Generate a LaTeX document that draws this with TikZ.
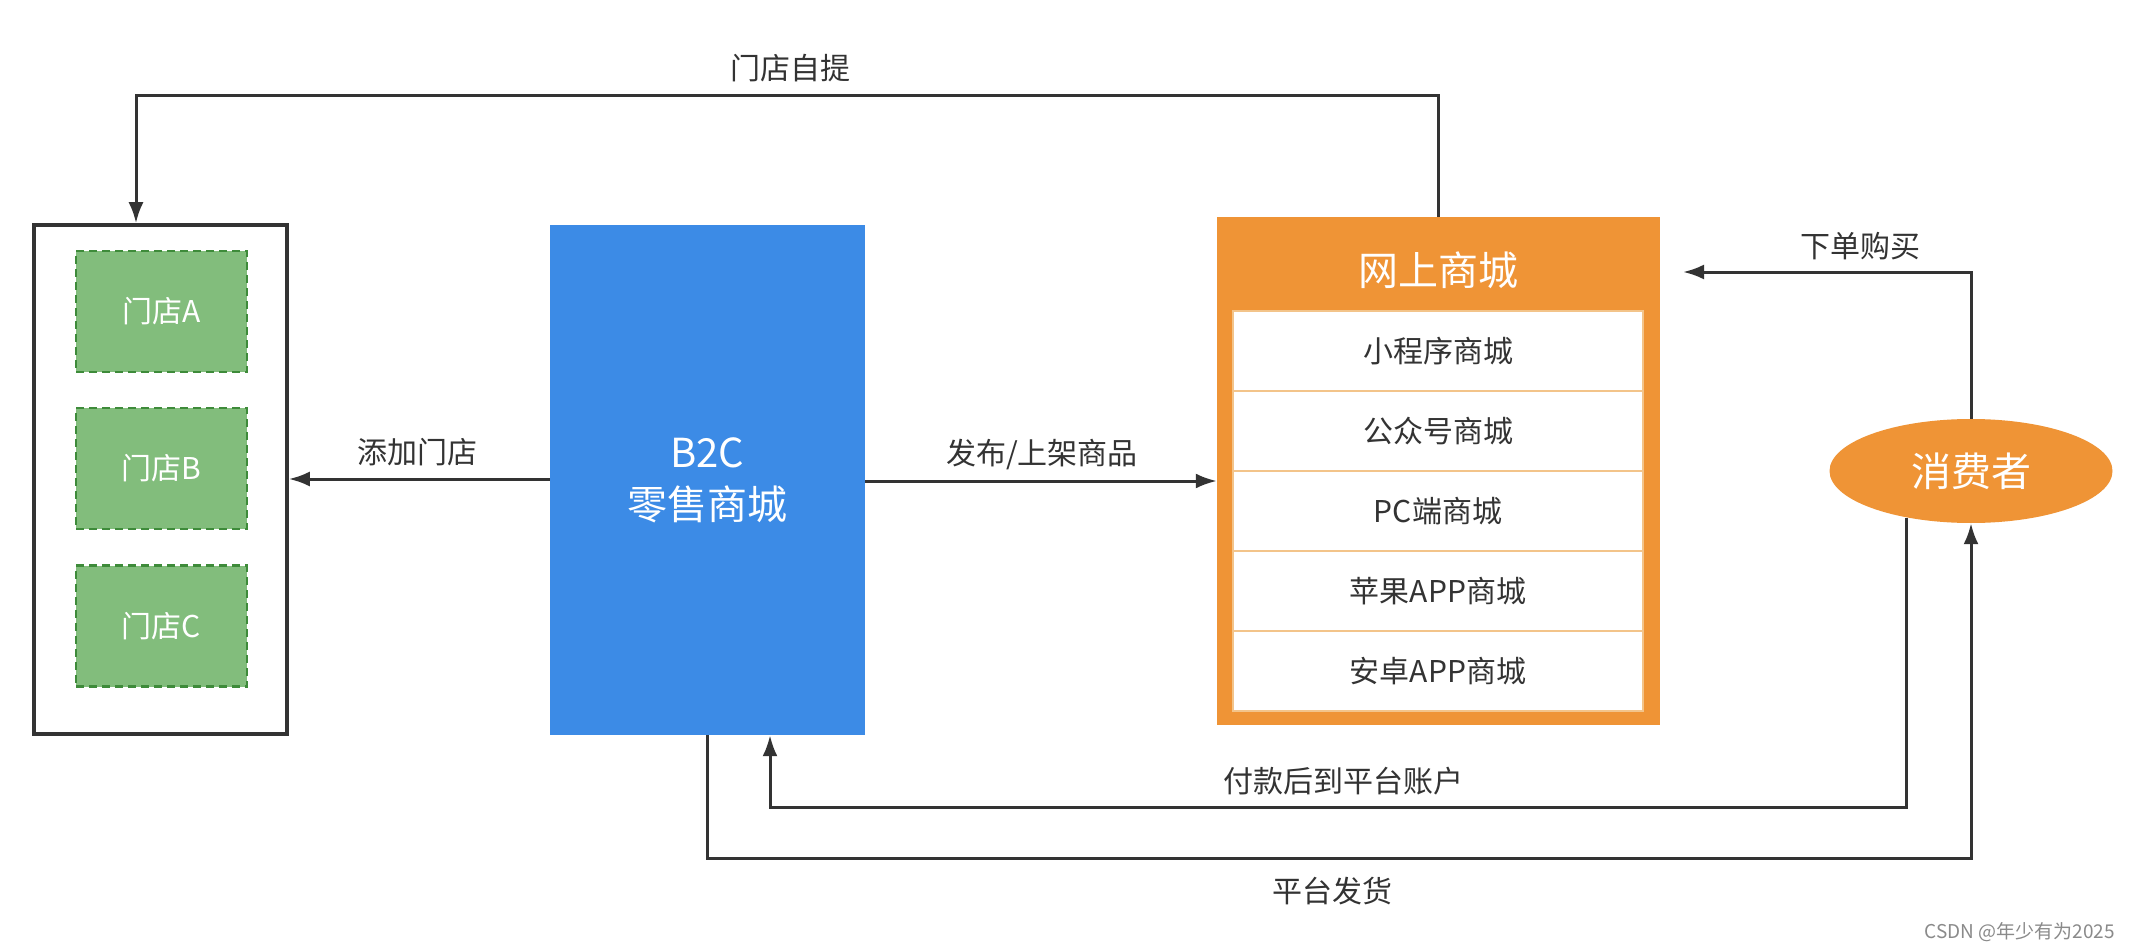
\documentclass[tikz,border=0pt]{standalone}
\usepackage{fontspec}
\setmainfont{Noto Sans CJK SC}
\usetikzlibrary{arrows.meta,shapes.geometric}
\definecolor{bblue}{HTML}{3C8BE6}
\definecolor{borange}{HTML}{EF9436}
\definecolor{gfill}{HTML}{82BD7C}
\definecolor{gline}{HTML}{3E8B3A}
\definecolor{lineg}{HTML}{333333}
\definecolor{rowline}{HTML}{F3C48A}
\definecolor{wmgray}{HTML}{8A8A8A}
\tikzset{
  conn/.style={draw=lineg, line width=3pt, -{Latex[length=21pt,width=15pt]}},
  lbl/.style={text=lineg, font=\fontsize{30}{36}\selectfont, inner sep=0pt},
  store/.style={draw=gline, fill=gfill, line width=2.2pt, dash pattern=on 8pt off 5pt,
    minimum width=171pt, minimum height=121pt, inner sep=0pt, text=white,
    font=\fontsize{30}{36}\selectfont},
  mrow/.style={fill=white, draw=rowline, line width=1.5pt, minimum width=410pt,
    minimum height=80pt, inner sep=0pt, text=lineg, font=\fontsize{30}{36}\selectfont},
}
\begin{document}
\begin{tikzpicture}[x=1pt,y=-1pt]
\useasboundingbox (0,0) rectangle (2142,952);
\fill[white] (0,0) rectangle (2142,952);

% store container
\node[draw=lineg, line width=3.5pt, minimum width=253pt, minimum height=509pt, inner sep=0pt] (cont) at (160.5,479.5) {};
\node[store] (sa) at (161.5,311.5) {门店A};
\node[store] (sb) at (161.5,468.5) {门店B};
\node[store] (sc) at (161.5,626) {门店C};

% B2C
\node[fill=bblue, minimum width=315pt, minimum height=510pt, inner sep=0pt, align=center,
  text=white, font=\fontsize{40}{52}\selectfont] (blue) at (707.5,480) {B2C\\零售商城};

% online mall
\node[fill=borange, minimum width=443pt, minimum height=508pt, inner sep=0pt] (mall) at (1438.5,471) {};
\node[text=white, font=\fontsize{40}{48}\selectfont, inner sep=0pt] (mtitle) at (1438.5,270) {网上商城};
\node[mrow] (r1) at (1438,351) {小程序商城};
\node[mrow] (r2) at (1438,431) {公众号商城};
\node[mrow] (r3) at (1438,511) {PC端商城};
\node[mrow] (r4) at (1438,591) {苹果APP商城};
\node[mrow] (r5) at (1438,671) {安卓APP商城};

% consumer
\node[ellipse, fill=borange, minimum width=283pt, minimum height=104pt, inner sep=0pt,
  text=white, font=\fontsize{40}{48}\selectfont] (cons) at (1971,471) {消费者};

% connectors
\coordinate (tl) at (136,96);
\draw[conn] (mall.north) |- (tl) -- (tl |- cont.north);
\node[lbl] (l1) at (790,68) {门店自提};

\draw[conn] (blue.west |- 0,479) -- (cont.east |- 0,479);
\node[lbl] (l2) at (417,452) {添加门店};

\draw[conn] (blue.east |- 0,481) -- (mall.west |- 0,481);
\node[lbl] (l3) at (1042,455) {发布/上架商品};

\coordinate (buy) at (1683,272);
\draw[conn] (cons.north) |- (buy);
\node[lbl] (l4) at (1860,246) {下单购买};

\coordinate (pay) at (770,807);
\draw[conn] (cons.216.5) |- (pay) -- (pay |- blue.south);
\node[lbl] (l5) at (1343,781) {付款后到平台账户};

\coordinate (ship) at (1971,858);
\draw[conn] (blue.south) |- (ship) -- (cons.south);
\node[lbl] (l6) at (1332,891) {平台发货};

\node[text=wmgray, font=\fontsize{19}{22}\selectfont, anchor=east, inner sep=0pt] (wm) at (2115,932) {CSDN @年少有为2025};
\end{tikzpicture}
\end{document}
